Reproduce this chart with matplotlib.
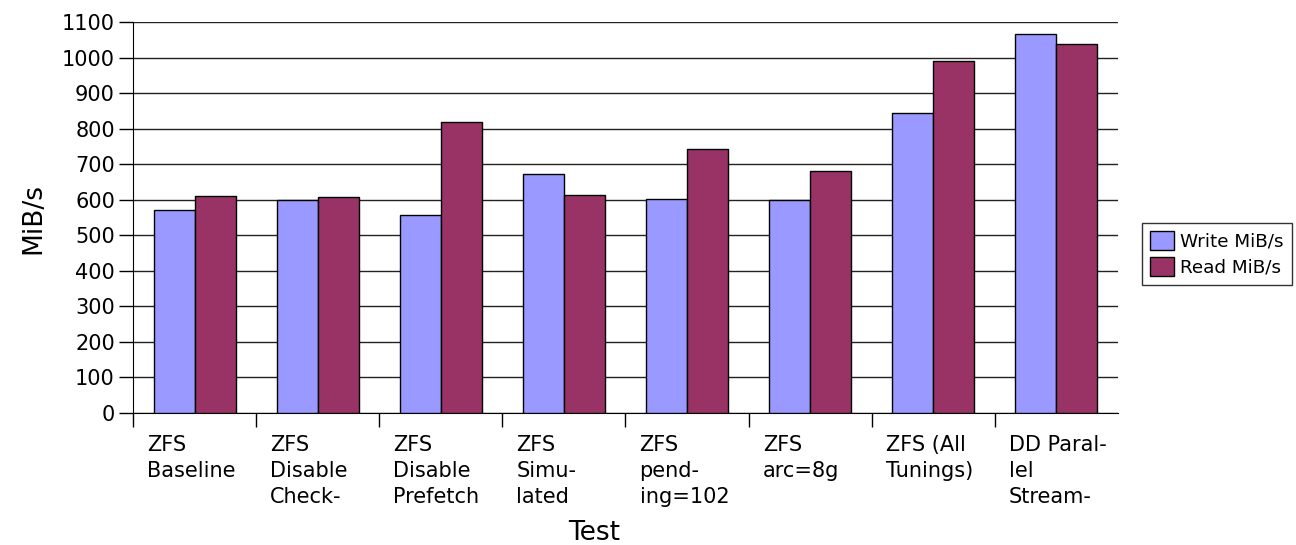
import numpy as np
import matplotlib.pyplot as plt

tests = ['ZFS\nBaseline', 'ZFS\nDisable\nCheck-', 'ZFS\nDisable\nPrefetch', 'ZFS\nSimu-\nlated',
         'ZFS\npend-\ning=102', 'ZFS\narc=8g', 'ZFS (All\nTunings)', 'DD Paral-\nlel\nStream-']
write_mibs = [571, 600, 557, 673, 601, 600, 845, 1065]
read_mibs = [610, 608, 820, 614, 743, 682, 990, 1037]

fig = plt.figure(figsize=(12.96, 5.45), dpi=100)
ax = fig.add_axes([0.1026, 0.2422, 0.76, 0.7174])

x = np.arange(len(tests)) + 0.5
w = 0.333
ax.bar(x - w / 2, write_mibs, w, color='#9999FF', edgecolor='black', linewidth=1,
       label='Write MiB/s', zorder=3)
ax.bar(x + w / 2, read_mibs, w, color='#993366', edgecolor='black', linewidth=1,
       label='Read MiB/s', zorder=3)

ax.set_xlim(0, len(tests))
ax.set_ylim(0, 1100)
ax.set_yticks(range(0, 1101, 100))
ax.yaxis.grid(True, color='#222222', linewidth=1, zorder=0)
ax.tick_params(axis='y', labelsize=15, length=10, width=1, pad=3)

# group boundary ticks, labels hang left-aligned inside each group
ax.set_xticks(range(len(tests)))
ax.set_xticklabels([])
ax.tick_params(axis='x', which='major', length=10, width=1)
ax.set_xticks(np.arange(len(tests)) + 0.115, minor=True)
ax.set_xticklabels(tests, minor=True, ha='left', va='top', fontsize=15, linespacing=1.38)
ax.tick_params(axis='x', which='minor', length=0, pad=16)

for s in ['top', 'right']:
    ax.spines[s].set_visible(False)
ax.spines['left'].set_color('black')
ax.spines['bottom'].set_color('black')

fig.text(33 / 1296, 1 - 218 / 545, 'MiB/s', rotation=90, fontsize=19, ha='center', va='center')
fig.text(594 / 1296, 1 - 533 / 545, 'Test', fontsize=19, ha='center', va='center')

leg = ax.legend(loc='center left', bbox_to_anchor=(1142 / 1296, 1 - 254 / 545),
                bbox_transform=fig.transFigure, fontsize=13.2, frameon=True, fancybox=False,
                edgecolor='black', handlelength=1.3, handleheight=1.2, handletextpad=0.35,
                borderpad=0.45, labelspacing=0.35, borderaxespad=0)
leg.get_frame().set_linewidth(1)

fig.savefig('out.png', dpi=100)
